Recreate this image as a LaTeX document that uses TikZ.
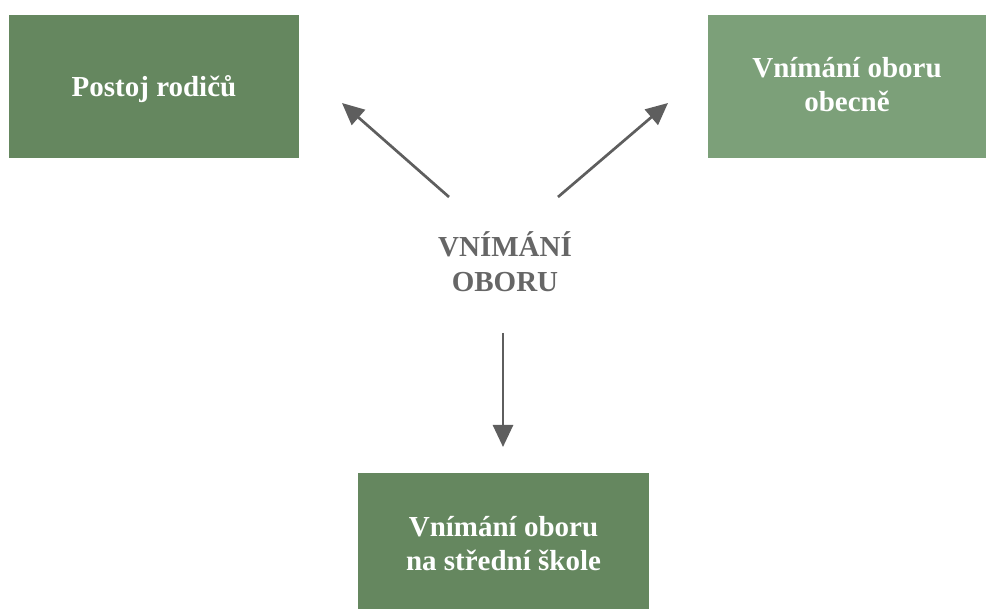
\documentclass[tikz,border=0pt]{standalone}
\usepackage{fontspec}
\setmainfont{Liberation Serif}
\usetikzlibrary{arrows.meta}
\definecolor{boxdark}{HTML}{65875F}
\definecolor{boxlight}{HTML}{7CA079}
\definecolor{arrowgray}{HTML}{5E5E5E}
\definecolor{labelgray}{HTML}{666666}
\begin{document}
\begin{tikzpicture}[x=1pt,y=-1pt,
  topicbox/.style={rectangle, inner sep=0pt},
  topictext/.style={align=center, text=white, inner sep=0pt,
    font=\fontsize{29}{34}\bfseries\selectfont},
  centrelabel/.style={align=center, text=labelgray,
    font=\fontsize{29}{35}\bfseries\selectfont},
  link/.style={draw=arrowgray, line width=2.7pt,
    -{Triangle[length=22pt,width=20pt]}}]
  \useasboundingbox (0,0) rectangle (986,609);
  % three topic boxes
  \node[topicbox, fill=boxdark, minimum width=290pt, minimum height=143pt]
    (parents) at (154,86.5) {};
  \node[topicbox, fill=boxlight, minimum width=278pt, minimum height=143pt]
    (general) at (847,86.5) {};
  \node[topicbox, fill=boxdark, minimum width=291pt, minimum height=144pt]
    (school) at (503.5,545) {};
  % their captions
  \node[topictext] (parentsText) at ([yshift=-3pt]parents.center) {Postoj rodičů};
  \node[topictext] (generalText) at ([yshift=1.5pt]general.center) {Vnímání oboru\\obecně};
  \node[topictext] (schoolText) at ([yshift=1pt]school.center) {Vnímání oboru\\na střední škole};
  % central label
  \node[centrelabel] (core) at (505,261.5) {VNÍMÁNÍ\\OBORU};
  % arrow end points
  \coordinate (leftFrom) at (449,197);
  \coordinate (leftTo) at (342,103);
  \coordinate (rightFrom) at (558,197);
  \coordinate (rightTo) at (668,103);
  \coordinate (downFrom) at (503,333);
  \coordinate (downTo) at (503,447);
  \draw[link] (leftFrom) -- (leftTo);
  \draw[link] (rightFrom) -- (rightTo);
  \draw[link] (downFrom) -- (downTo);
\end{tikzpicture}
\end{document}
